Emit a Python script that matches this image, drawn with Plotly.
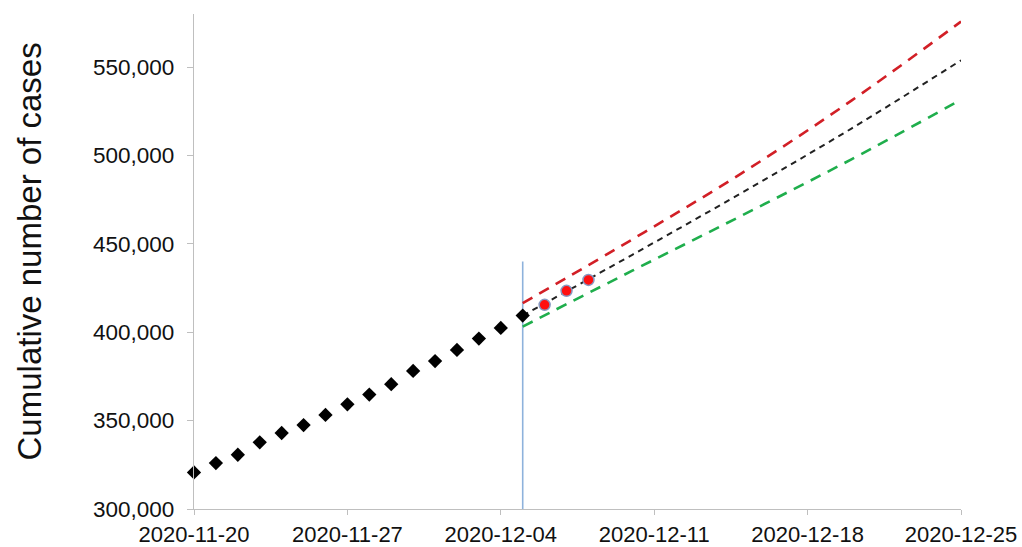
import plotly.graph_objects as go

# Observed cumulative cases (black diamonds)
obs_dates = ["2020-11-20", "2020-11-21", "2020-11-22", "2020-11-23", "2020-11-24",
             "2020-11-25", "2020-11-26", "2020-11-27", "2020-11-28", "2020-11-29",
             "2020-11-30", "2020-12-01", "2020-12-02", "2020-12-03", "2020-12-04",
             "2020-12-05"]
obs_values = [320700, 326000, 330700, 337700, 343000, 347500, 353200, 359200,
              364700, 370600, 378100, 383700, 390000, 396400, 402400, 409400]

# Validation points (red dots)
val_dates = ["2020-12-06", "2020-12-07", "2020-12-08"]
val_values = [415500, 423400, 429600]

# Projections (dashed lines)
proj_dates = ["2020-12-05", "2020-12-10", "2020-12-15", "2020-12-20", "2020-12-25"]
proj_upper = [416400, 452500, 490000, 531000, 575700]
proj_mid = [409400, 443800, 478900, 515200, 553800]
proj_lower = [403200, 434800, 466000, 497800, 531500]

# Forecast start marker (vertical line)
cut_dates = ["2020-12-05", "2020-12-05"]
cut_values = [300000, 440000]

x_ticks = ["2020-11-20", "2020-11-27", "2020-12-04", "2020-12-11", "2020-12-18", "2020-12-25"]
y_ticks = [300000, 350000, 400000, 450000, 500000, 550000]

FONT = "Liberation Sans, Arial, sans-serif"

fig = go.Figure()

fig.add_trace(go.Scatter(x=cut_dates, y=cut_values, mode="lines",
                         line=dict(color="#8eb2dc", width=1.6), showlegend=False))

fig.add_trace(go.Scatter(x=proj_dates, y=proj_upper, mode="lines", line_shape="spline",
                         line=dict(color="#d21f26", width=2.6, dash="11px,8px"), showlegend=False))
fig.add_trace(go.Scatter(x=proj_dates, y=proj_lower, mode="lines", line_shape="spline",
                         line=dict(color="#1fae4c", width=2.6, dash="11px,8px"), showlegend=False))
fig.add_trace(go.Scatter(x=proj_dates, y=proj_mid, mode="lines", line_shape="spline",
                         line=dict(color="#222222", width=2, dash="6px,5px"), showlegend=False))

fig.add_trace(go.Scatter(x=obs_dates, y=obs_values, mode="markers", cliponaxis=False,
                         marker=dict(symbol="diamond", size=11, color="black"), showlegend=False))

fig.add_trace(go.Scatter(x=val_dates, y=val_values, mode="markers", cliponaxis=False,
                         marker=dict(symbol="circle", size=11, color="#ff1010",
                                     line=dict(color="#8799c2", width=1.5)), showlegend=False))

fig.update_xaxes(
    range=["2020-11-20", "2020-12-25"],
    tickvals=x_ticks, tickformat="%Y-%m-%d",
    showgrid=False, zeroline=False, automargin=False,
    showline=True, linecolor="#bfbfbf", linewidth=1.2,
    ticks="outside", ticklen=5, tickcolor="#bfbfbf",
    ticklabelstandoff=0,
    tickfont=dict(family=FONT, size=22, color="#111111"),
)
fig.update_yaxes(
    range=[300000, 580000],
    tickvals=y_ticks, tickformat=",d",
    showgrid=False, zeroline=False, automargin=False,
    showline=True, linecolor="#bfbfbf", linewidth=1.2,
    ticks="outside", ticklen=6, tickcolor="#bfbfbf",
    ticklabelstandoff=8,
    tickfont=dict(family=FONT, size=22.5, color="#111111"),
)

fig.add_annotation(text="Cumulative number of cases", xref="paper", yref="paper",
                   x=-0.214, y=0.52, textangle=-90, showarrow=False,
                   font=dict(family=FONT, size=33, color="#111111"),
                   xanchor="center", yanchor="middle")

fig.update_layout(
    width=1022, height=547,
    margin=dict(l=194, r=61, t=14, b=38),
    plot_bgcolor="white", paper_bgcolor="white",
    showlegend=False,
)

fig.write_html("out.html", config={"displayModeBar": False},
               post_script="document.body.style.margin='0';document.body.style.overflow='hidden';")
